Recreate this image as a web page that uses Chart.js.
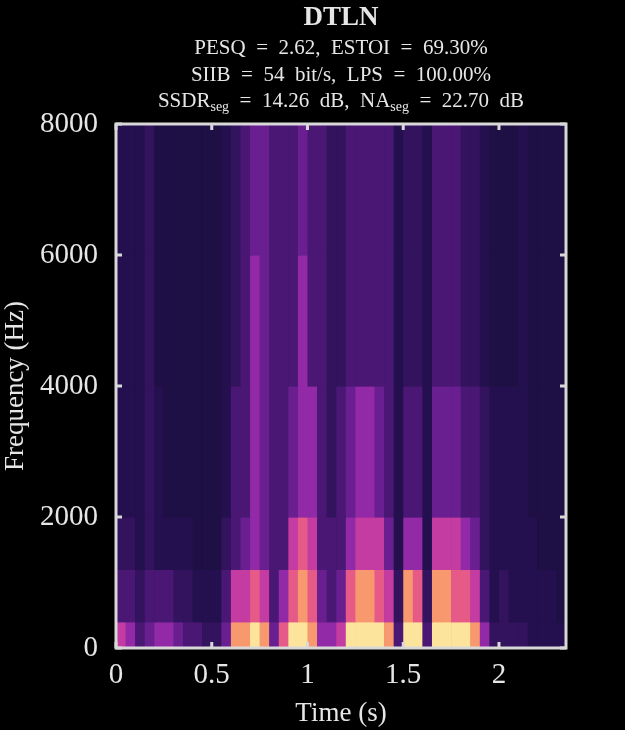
<!DOCTYPE html>
<html>
<head>
<meta charset="utf-8">
<script src="https://cdn.jsdelivr.net/npm/chart.js@4/dist/chart.umd.min.js"></script>
<style>
  html, body { margin: 0; padding: 0; background: #000; }
  #wrap { width: 625px; height: 730px; }
</style>
</head>
<body>
<div id="wrap"><canvas id="spec"></canvas></div>
<script>
// --- Data: spectrogram, 0.05 s columns, levels 0..9 ---
const timeStep = 0.05;
const timeMax = 2.35;
const bandEdges = [0, 400, 1200, 2000, 4000, 6000, 8000];
// one string per band, bottom band first, one char per time column
const bandLevels = [
  "6534554332" + "2488984799" + "8556999983" + "9939999852" + "2221111",
  "3323332211" + "1366763578" + "7434788762" + "8728877631" + "2111110",
  "2212111100" + "0234543367" + "6333566641" + "5516665421" + "1111000",
  "1112100000" + "0133543345" + "5323455431" + "3314443321" + "1110000",
  "1112000000" + "0123543335" + "3322333331" + "2213332210" + "0010000",
  "1112000000" + "0123443334" + "3322333331" + "2213332210" + "0010000",
];
const levelColors = ["#1e0f45", "#25104f", "#33135e", "#4a1775", "#6a1f90",
                     "#9229a6", "#c43ca2", "#e65a88", "#f8986e", "#fde49c"];
const xTicks = [0, 0.5, 1, 1.5, 2];
const yTicks = [0, 2000, 4000, 6000, 8000];
const titleLines = ["PESQ  =  2.62,  ESTOI  =  69.30%", "SIIB  =  54  bit/s,  LPS  =  100.00%"];

const serif = "'Liberation Serif', 'DejaVu Serif', serif";
const fg = '#e6e6e6';

const specPlugin = {
  id: 'spec',
  beforeDatasetsDraw(chart) {
    const { ctx, scales: { x, y } } = chart;
    ctx.save();
    bandLevels.forEach((row, b) => {
      const y0 = y.getPixelForValue(bandEdges[b]);
      const y1 = y.getPixelForValue(bandEdges[b + 1]);
      for (let i = 0; i < row.length; i++) {
        const x0 = x.getPixelForValue(i * timeStep);
        const x1 = x.getPixelForValue(Math.min((i + 1) * timeStep, timeMax));
        ctx.fillStyle = levelColors[+row[i]];
        ctx.fillRect(x0, y1, x1 - x0 + 0.6, y0 - y1 + 0.6);
      }
    });
    ctx.restore();
  },
  afterDraw(chart) {
    const { ctx, chartArea: a, scales: { x, y } } = chart;
    ctx.save();
    ctx.strokeStyle = '#d8d8d8';
    ctx.lineWidth = 3;
    ctx.strokeRect(a.left, a.top, a.right - a.left, a.bottom - a.top);
    xTicks.forEach(v => {
      const px = x.getPixelForValue(v);
      ctx.beginPath();
      ctx.moveTo(px, a.bottom); ctx.lineTo(px, a.bottom - 6);
      ctx.moveTo(px, a.top); ctx.lineTo(px, a.top + 6);
      ctx.stroke();
    });
    yTicks.forEach(v => {
      const py = y.getPixelForValue(v);
      ctx.beginPath();
      ctx.moveTo(a.left, py); ctx.lineTo(a.left + 6, py);
      ctx.moveTo(a.right, py); ctx.lineTo(a.right - 6, py);
      ctx.stroke();
    });
    // titles
    const cx = (a.left + a.right) / 2;
    ctx.fillStyle = fg;
    ctx.textAlign = 'center';
    ctx.textBaseline = 'middle';
    ctx.font = 'bold 27px ' + serif;
    ctx.fillText('DTLN', cx, 18);
    ctx.font = '21px ' + serif;
    ctx.fillText(titleLines[0], cx, 48);
    ctx.fillText(titleLines[1], cx, 75);
    // line with subscripts
    const parts = [['SSDR', 0], ['seg', 1], ['  =  14.26  dB,  NA', 0], ['seg', 1], ['  =  22.70  dB', 0]];
    const fontOf = s => s ? '14px ' + serif : '21px ' + serif;
    let w = 0;
    parts.forEach(p => { ctx.font = fontOf(p[1]); w += ctx.measureText(p[0]).width; });
    let px = cx - w / 2;
    ctx.textAlign = 'left';
    parts.forEach(p => {
      ctx.font = fontOf(p[1]);
      ctx.fillText(p[0], px, p[1] ? 107 : 101);
      px += ctx.measureText(p[0]).width;
    });
    ctx.restore();
  }
};

new Chart(document.getElementById('spec'), {
  type: 'scatter',
  data: { datasets: [{ data: [], showLine: false }] },
  options: {
    responsive: true,
    maintainAspectRatio: false,
    animation: false,
    layout: { padding: { top: 124, right: 59, left: 0, bottom: 0 } },
    plugins: { legend: { display: false }, tooltip: { enabled: false } },
    scales: {
      x: {
        type: 'linear', min: 0, max: timeMax,
        afterBuildTicks: s => { s.ticks = xTicks.map(v => ({ value: v })); },
        afterFit: s => { s.height = 82; },
        grid: { display: false },
        border: { display: false },
        ticks: { color: fg, font: { family: serif, size: 29 }, padding: 2, maxRotation: 0,
                 callback: v => String(v) },
        title: { display: true, text: 'Time (s)', color: fg, font: { family: serif, size: 27 }, padding: 0 }
      },
      y: {
        type: 'linear', min: 0, max: 8000,
        afterBuildTicks: s => { s.ticks = yTicks.map(v => ({ value: v })); },
        afterFit: s => { s.width = 116; },
        grid: { display: false },
        border: { display: false },
        ticks: { color: fg, font: { family: serif, size: 29 }, padding: 10,
                 callback: v => String(v) },
        title: { display: true, text: 'Frequency (Hz)', color: fg, font: { family: serif, size: 27 }, padding: 0 }
      }
    }
  },
  plugins: [specPlugin]
});
</script>
</body>
</html>
